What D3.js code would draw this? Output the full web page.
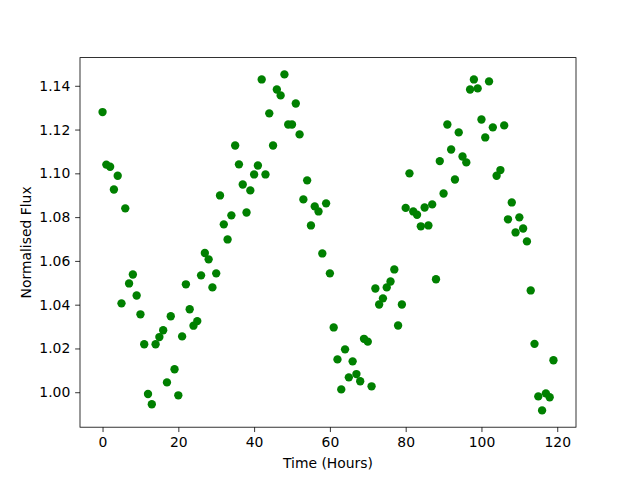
<!DOCTYPE html>
<html>
<head>
<meta charset="utf-8">
<script src="https://cdn.jsdelivr.net/npm/d3@7"></script>
<style>
  body { margin: 0; background: #fff; }
  text { font-family: "DejaVu Sans", sans-serif; }
</style>
</head>
<body>
<div id="chart"></div>
<script>
// time of each observation, hours
const hours = [
  0, 1, 2, 3, 4, 5, 6, 7, 8, 9, 10, 11, 12, 13, 14, 15, 16, 17, 18, 19,
  20, 21, 22, 23, 24, 25, 26, 27, 28, 29, 30, 31, 32, 33, 34, 35, 36, 37, 38, 39,
  40, 41, 42, 43, 44, 45, 46, 47, 48, 49, 50, 51, 52, 53, 54, 55, 56, 57, 58, 59,
  60, 61, 62, 63, 64, 65, 66, 67, 68, 69, 70, 71, 72, 73, 74, 75, 76, 77, 78, 79,
  80, 81, 82, 83, 84, 85, 86, 87, 88, 89, 90, 91, 92, 93, 94, 95, 96, 97, 98, 99,
  100, 101, 102, 103, 104, 105, 106, 107, 108, 109, 110, 111, 112, 113, 114, 115, 116, 117, 118, 119
];

// normalised flux
const flux = [
  1.128, 1.104, 1.103, 1.0926, 1.0989, 1.0406, 1.084, 1.0497, 1.0538, 1.0442,
  1.0356, 1.0219, 0.9992, 0.9945, 1.0219, 1.0252, 1.0283, 1.0045, 1.0347, 1.0105,
  0.9986, 1.0255, 1.0493, 1.0379, 1.0304, 1.0325, 1.0534, 1.0636, 1.0607, 1.0479,
  1.0543, 1.0899, 1.0767, 1.0698, 1.0808, 1.1127, 1.1041, 1.0949, 1.0821, 1.0922,
  1.0995, 1.1036, 1.1429, 1.0995, 1.1274, 1.1127, 1.1383, 1.1356, 1.1452, 1.1223,
  1.1223, 1.1319, 1.1178, 1.0881, 1.0968, 1.0762, 1.0849, 1.0826, 1.0634, 1.0863,
  1.0543, 1.0296, 1.0150, 1.0013, 1.0196, 1.0068, 1.0141, 1.0083, 1.0050, 1.0244,
  1.0231, 1.0027, 1.0474, 1.0401, 1.0429, 1.0479, 1.0506, 1.0561, 1.0305, 1.0401,
  1.0842, 1.1000, 1.0826, 1.0811, 1.0758, 1.0844, 1.0762, 1.0858, 1.0516, 1.1056,
  1.0908, 1.1223, 1.1109, 1.0972, 1.1187, 1.1077, 1.1050, 1.1383, 1.1429, 1.1388,
  1.1246, 1.1164, 1.1420, 1.1210, 1.0989, 1.1015, 1.1219, 1.0790, 1.0867, 1.0730,
  1.0799, 1.0748, 1.0689, 1.0465, 1.0221, 0.9981, 0.9917, 0.9995, 0.9977, 1.0146
];

const xTicks = [0, 20, 40, 60, 80, 100, 120];
const yTicks = [1.00, 1.02, 1.04, 1.06, 1.08, 1.10, 1.12, 1.14];

const W = 640, H = 480;
const margin = { top: 57.6, right: 64, bottom: 52.8, left: 80 };
const width = W - margin.left - margin.right;
const height = H - margin.top - margin.bottom;
const color = "#008000";
const tickLen = 4.86;

const svg = d3.select("#chart").append("svg")
    .attr("width", W)
    .attr("height", H);

const g = svg.append("g")
    .attr("transform", "translate(" + margin.left + "," + margin.top + ")");

// matplotlib style 5% padding around the data
function padded(ext) {
    const d = (ext[1] - ext[0]) * 0.05;
    return [ext[0] - d, ext[1] + d];
}

const x = d3.scaleLinear().domain(padded(d3.extent(hours))).range([0, width]);
const y = d3.scaleLinear().domain(padded(d3.extent(flux))).range([height, 0]);

const data = hours.map((h, i) => ({ h: h, f: flux[i] }));

g.selectAll(".dot")
    .data(data)
    .enter().append("circle")
    .attr("class", "dot")
    .attr("cx", d => x(d.h))
    .attr("cy", d => y(d.f))
    .attr("r", 4.17)
    .style("fill", color);

// frame
g.append("rect")
    .attr("width", width)
    .attr("height", height)
    .style("fill", "none")
    .style("stroke", "#000")
    .style("stroke-width", 0.8);

const xAxis = g.append("g")
    .attr("transform", "translate(0," + height + ")")
    .call(d3.axisBottom(x).tickValues(xTicks).tickSize(tickLen).tickPadding(4.86).tickSizeOuter(0));

const yAxis = g.append("g")
    .call(d3.axisLeft(y).tickValues(yTicks).tickFormat(d3.format(".2f")).tickSize(tickLen).tickPadding(4.86).tickSizeOuter(0));

[xAxis, yAxis].forEach(a => {
    a.select(".domain").remove();
    a.selectAll("line").style("stroke", "#000").style("stroke-width", 0.8);
    a.selectAll("text")
        .style("font-family", "'DejaVu Sans', sans-serif")
        .style("font-size", "13.9px")
        .style("fill", "#000");
});

// axis labels
svg.append("text")
    .attr("x", margin.left + width / 2)
    .attr("y", 468)
    .attr("text-anchor", "middle")
    .style("font-size", "13.9px")
    .text("Time (Hours)");

svg.append("text")
    .attr("transform", "translate(31," + (margin.top + height / 2) + ") rotate(-90)")
    .attr("text-anchor", "middle")
    .style("font-size", "13.9px")
    .text("Normalised Flux");
</script>
</body>
</html>
